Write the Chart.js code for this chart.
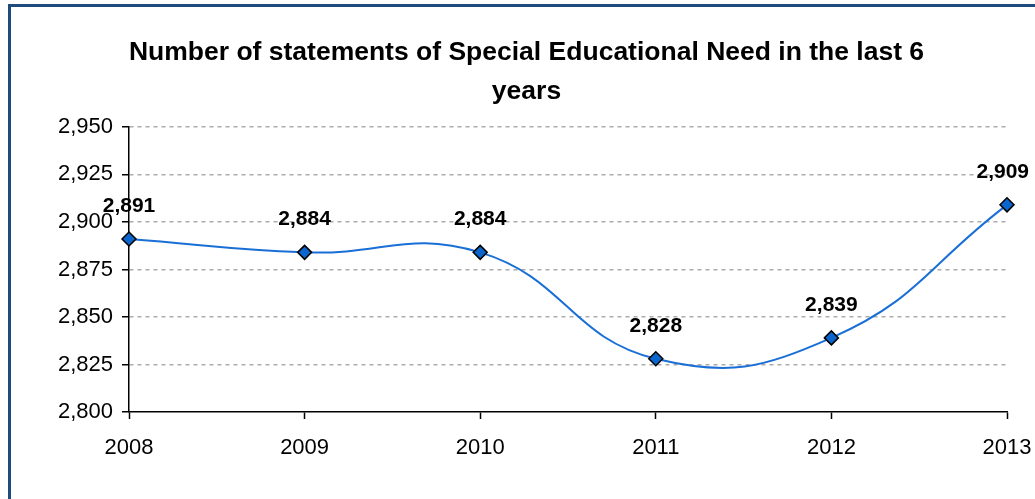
<!DOCTYPE html>
<html>
<head>
<meta charset="utf-8">
<script src="https://cdn.jsdelivr.net/npm/chart.js@4.4.1/dist/chart.umd.min.js"></script>
<style>
  html, body { margin: 0; padding: 0; background: #fff; overflow: hidden; }
  #wrap { position: relative; width: 1035px; height: 499px; overflow: hidden; }
  #frame { position: absolute; left: 8px; top: 4px; width: 2000px; height: 2000px; border: 3px solid #1f4a7c; box-sizing: border-box; pointer-events: none; }
  canvas { position: absolute; left: 0; top: 0; }
</style>
</head>
<body>
<div id="wrap">
  <canvas id="c" width="1035" height="499"></canvas>
  <div id="frame"></div>
</div>
<script>
const titleLines = ['Number of statements of Special Educational Need in the last 6', 'years'];
const years = ['2008', '2009', '2010', '2011', '2012', '2013'];
const statements = [2891, 2884, 2884, 2828, 2839, 2909];
const yMin = 2800;
const yMax = 2950;
const yStep = 25;

const FONT = '"Liberation Sans", Arial, sans-serif';
const fmt = v => v.toLocaleString('en-US');

const pointLabels = {
  id: 'pointLabels',
  afterDatasetsDraw(chart) {
    const ctx = chart.ctx;
    const meta = chart.getDatasetMeta(0);
    ctx.save();
    ctx.font = 'bold 21px ' + FONT;
    ctx.fillStyle = '#000';
    ctx.textAlign = 'center';
    ctx.textBaseline = 'alphabetic';
    meta.data.forEach((pt, i) => {
      const txt = fmt(chart.data.datasets[0].data[i]);
      const w = ctx.measureText(txt).width;
      let x = pt.x;
      if (x + w / 2 > chart.width - 6) x = chart.width - 6 - w / 2;
      ctx.fillText(txt, x, pt.y - 27);
    });
    ctx.restore();
  }
};

new Chart(document.getElementById('c'), {
  type: 'line',
  data: {
    labels: years,
    datasets: [{
      data: statements,
      borderColor: '#1a6fd6',
      borderWidth: 2,
      backgroundColor: '#0a66cc',
      pointStyle: 'rectRot',
      pointRadius: 7,
      pointHoverRadius: 7,
      pointBackgroundColor: '#0a66cc',
      pointBorderColor: '#000',
      pointBorderWidth: 1.5,
      tension: 0.45,
      fill: false,
      clip: false
    }]
  },
  options: {
    responsive: false,
    animation: false,
    layout: { padding: { left: 46, right: 28, top: 0, bottom: 0 } },
    plugins: {
      legend: { display: false },
      tooltip: { enabled: false },
      title: {
        display: true,
        text: titleLines,
        color: '#000',
        font: { family: FONT, size: 26.5, weight: 'bold', lineHeight: 1.47 },
        padding: { top: 33.5, bottom: 15.5 }
      }
    },
    scales: {
      x: {
        type: 'category',
        offset: false,
        grid: { drawOnChartArea: false, drawTicks: true, tickLength: 7, tickColor: '#000', tickWidth: 1.5 },
        border: { display: true, color: '#000', width: 1.5 },
        ticks: { color: '#000', font: { family: FONT, size: 22 }, padding: 16, maxRotation: 0, autoSkip: false },
        afterFit(scale) {
          scale.height = 87;
          scale.paddingLeft = 0;
          scale.paddingRight = 0;
        }
      },
      y: {
        min: yMin,
        max: yMax,
        ticks: {
          stepSize: yStep,
          color: '#000',
          font: { family: FONT, size: 22 },
          padding: 9,
          callback: v => fmt(v)
        },
        grid: {
          color: ctx => ctx.tick && ctx.tick.value === yMin ? 'rgba(0,0,0,0)' : '#ababab',
          lineWidth: 1.5,
          drawTicks: true,
          tickLength: 7,
          tickColor: '#000',
          tickWidth: 1.5,
          tickBorderDash: []
        },
        border: { display: true, color: '#000', width: 1.5, dash: [4, 4] },
        afterFit(scale) {
          scale.width = 83;
          scale.paddingTop = 0;
          scale.paddingBottom = 0;
        }
      }
    }
  },
  plugins: [pointLabels]
});
</script>
</body>
</html>
